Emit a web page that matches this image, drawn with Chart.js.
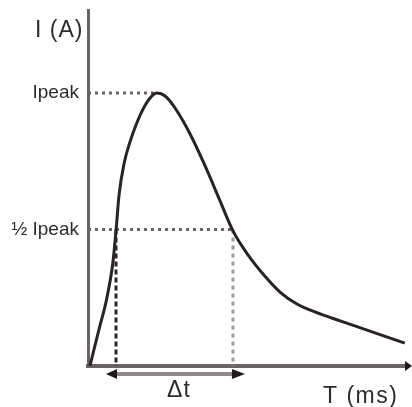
<!DOCTYPE html>
<html>
<head>
<meta charset="utf-8">
<script src="https://cdn.jsdelivr.net/npm/chart.js@4.4.0/dist/chart.umd.min.js"></script>
<style>
html, body { margin: 0; padding: 0; background: #fff; }
</style>
</head>
<body>
<canvas id="myChart" width="412" height="407"></canvas>
<script>
// Curva do pulso: tempo (ms, unidades arbitrárias) e corrente (fração de Ipeak)
const tempos = [0.06, 0.34, 0.59, 0.78, 0.875, 0.97, 1.13, 1.31, 1.5, 1.72, 1.94, 2.16, 2.41, 2.72, 3.19, 3.66, 4.09, 4.53, 5.0, 5.47, 6.0, 6.53, 7.09, 7.88, 8.81, 9.9];
const correntes = [0, 0.132, 0.249, 0.381, 0.495, 0.626, 0.743, 0.82, 0.883, 0.941, 0.982, 1.0, 0.989, 0.945, 0.85, 0.733, 0.615, 0.495, 0.407, 0.337, 0.271, 0.227, 0.198, 0.165, 0.128, 0.084];

// Rótulos do eixo Y
const valoresY = [0.5, 1];
const rotulosY = ['½ Ipeak', 'Ipeak'];

// Instantes em que a corrente cruza ½ Ipeak
const t1 = 0.875;
const t2 = 4.53;

const pico = Math.max(...correntes);
const tPico = tempos[correntes.indexOf(pico)];
const corTexto = '#302a2a';
const corEixo = '#6b6363';
const fonte = '"Liberation Sans", Arial, sans-serif';

const pontos = tempos.map((t, i) => ({ x: t, y: correntes[i] }));

// Plugin para títulos dos eixos, seta do Δt e ponta do eixo X
const anotacoes = {
    id: 'anotacoes',
    afterDraw(chart) {
        const ctx = chart.ctx;
        const xs = chart.scales.x;
        const ys = chart.scales.y;
        const p1 = xs.getPixelForValue(t1);
        const p2 = xs.getPixelForValue(t2);
        const yBase = ys.getPixelForValue(0);
        const ySeta = yBase + 8;

        ctx.save();
        // linha do Δt
        ctx.strokeStyle = '#8e8888';
        ctx.lineWidth = 4;
        ctx.beginPath();
        ctx.moveTo(p1, ySeta);
        ctx.lineTo(p2, ySeta);
        ctx.stroke();

        // pontas da seta
        ctx.fillStyle = '#1e1818';
        ctx.beginPath();
        ctx.moveTo(p1 - 10, ySeta);
        ctx.lineTo(p1 + 1, ySeta - 5);
        ctx.lineTo(p1 + 1, ySeta + 5);
        ctx.closePath();
        ctx.fill();
        ctx.beginPath();
        ctx.moveTo(p2 + 12, ySeta);
        ctx.lineTo(p2 - 1, ySeta - 5);
        ctx.lineTo(p2 - 1, ySeta + 5);
        ctx.closePath();
        ctx.fill();

        // ponta do eixo X
        const xFim = xs.right;
        ctx.beginPath();
        ctx.moveTo(xFim + 4, yBase);
        ctx.lineTo(xFim - 3, yBase - 5);
        ctx.lineTo(xFim - 3, yBase + 5);
        ctx.closePath();
        ctx.fill();

        // textos
        ctx.fillStyle = corTexto;
        ctx.font = '23px ' + fonte;
        ctx.textBaseline = 'alphabetic';
        ctx.letterSpacing = '1px';
        ctx.textAlign = 'left';
        ctx.fillText('I (A)', 35, 37);
        ctx.textAlign = 'center';
        ctx.fillText('Δt', 179, 397);
        ctx.textAlign = 'left';
        ctx.letterSpacing = '1.5px';
        ctx.fillText('T (ms)', 323, 403);
        ctx.restore();
    }
};

const ctx = document.getElementById('myChart').getContext('2d');
const myChart = new Chart(ctx, {
    type: 'line',
    data: {
        datasets: [
            {
                data: pontos,
                borderColor: '#2b2323',
                borderWidth: 3,
                pointRadius: 0,
                cubicInterpolationMode: 'monotone',
                order: 0
            },
            {
                data: [{ x: 0, y: pico }, { x: tPico, y: pico }],
                borderColor: corEixo,
                borderWidth: 3,
                borderDash: [3, 4],
                pointRadius: 0,
                order: 1
            },
            {
                data: [{ x: 0, y: pico / 2 }, { x: t2, y: pico / 2 }],
                borderColor: corEixo,
                borderWidth: 3,
                borderDash: [3, 4],
                pointRadius: 0,
                order: 1
            },
            {
                data: [{ x: t1, y: pico / 2 }, { x: t1, y: 0 }],
                borderColor: '#2e2727',
                borderWidth: 3,
                borderDash: [5, 3],
                pointRadius: 0,
                order: 1
            },
            {
                data: [{ x: t2, y: pico / 2 }, { x: t2, y: 0 }],
                borderColor: '#a29d9d',
                borderWidth: 3,
                borderDash: [4, 4],
                pointRadius: 0,
                order: 1
            }
        ]
    },
    options: {
        responsive: false,
        animation: false,
        plugins: {
            legend: { display: false },
            tooltip: { enabled: false }
        },
        layout: {
            padding: { top: 10, right: 4, bottom: 0, left: 0 }
        },
        scales: {
            x: {
                type: 'linear',
                min: 0,
                max: 10,
                grid: { display: false, drawTicks: false },
                border: { display: true, color: corEixo, width: 4 },
                ticks: { display: false },
                afterFit: (scale) => { scale.height = 41; }
            },
            y: {
                type: 'linear',
                min: 0,
                max: 1.304,
                grid: { display: false, drawTicks: false },
                border: { display: true, color: corEixo, width: 3 },
                afterBuildTicks: (scale) => {
                    scale.ticks = valoresY.map(v => ({ value: v }));
                },
                ticks: {
                    padding: 9,
                    color: corTexto,
                    font: { family: fonte, size: 19 },
                    callback: (value) => rotulosY[valoresY.indexOf(value)]
                },
                afterFit: (scale) => {
                    scale.width = 88;
                    // sem folga extra em cima/embaixo por causa dos rótulos
                    scale.paddingTop = 0;
                    scale.paddingBottom = 0;
                }
            }
        }
    },
    plugins: [anotacoes]
});
</script>
</body>
</html>
